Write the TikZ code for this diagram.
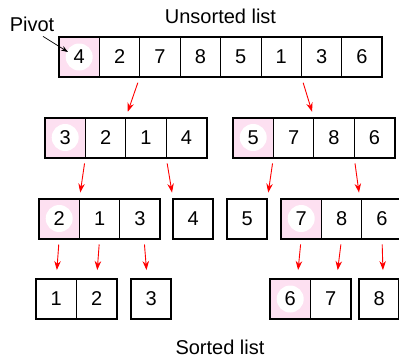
\documentclass[tikz,border=0pt]{standalone}
\usepackage{fontspec}
\setmainfont{Liberation Sans}
\usetikzlibrary{arrows.meta,positioning}

\begin{document}
\begin{tikzpicture}[
    x=1pt, y=-1pt,
    node distance=0pt,
    every node/.style={font=\fontsize{20}{24}\selectfont},
    cell/.style={rectangle, draw=black, line width=0.7pt, minimum width=40.4pt, minimum height=40pt, inner sep=0pt, outer sep=0pt},
    pivot/.style={cell, fill=magenta!12, path picture={\fill[white] (path picture bounding box.center) circle (13.5pt);}},
    single/.style={cell, line width=2pt},
    outline/.style={draw=black, line width=2pt},
    split/.style={-{Stealth[length=9pt,width=6.5pt]}, red, line width=0.9pt, shorten <=6pt, shorten >=6pt},
    ptr/.style={-{Stealth[length=7pt,width=5pt]}, black, line width=0.7pt}
]
\useasboundingbox (0,0) rectangle (399,359);

% labels
\node (pivot) at (32,24.5) {Pivot};
\node (unsorted) at (220.5,16.5) {Unsorted list};
\node (sorted) at (220,347) {Sorted list};

% unsorted list
\node[pivot] (u1) at (79.2,57) {4};
\node[cell, right=of u1] (u2) {2};
\node[cell, right=of u2] (u3) {7};
\node[cell, right=of u3] (u4) {8};
\node[cell, right=of u4] (u5) {5};
\node[cell, right=of u5] (u6) {1};
\node[cell, right=of u6] (u7) {3};
\node[cell, right=of u7] (u8) {6};
\draw[outline] (u1.north west) rectangle (u8.south east);

% first split
\node[pivot] (a1) at (65.2,137.5) {3};
\node[cell, right=of a1] (a2) {2};
\node[cell, right=of a2] (a3) {1};
\node[cell, right=of a3] (a4) {4};
\draw[outline] (a1.north west) rectangle (a4.south east);

\node[pivot] (b1) at (253.2,137.5) {5};
\node[cell, right=of b1] (b2) {7};
\node[cell, right=of b2] (b3) {8};
\node[cell, right=of b3] (b4) {6};
\draw[outline] (b1.north west) rectangle (b4.south east);

% second split
\node[pivot] (c1) at (59.2,218.5) {2};
\node[cell, right=of c1] (c2) {1};
\node[cell, right=of c2] (c3) {3};
\draw[outline] (c1.north west) rectangle (c3.south east);

\node[single] (d) at (193.2,218.5) {4};
\node[single] (e) at (247.2,218.5) {5};

\node[pivot] (f1) at (301.2,218.5) {7};
\node[cell, right=of f1] (f2) {8};
\node[cell, right=of f2] (f3) {6};
\draw[outline] (f1.north west) rectangle (f3.south east);

% sorted pieces
\node[cell] (g1) at (56.2,299) {1};
\node[cell, right=of g1] (g2) {2};
\draw[outline] (g1.north west) rectangle (g2.south east);

\node[single] (h) at (151.2,299) {3};

\node[pivot] (k1) at (290.2,299) {6};
\node[cell, right=of k1] (k2) {7};
\draw[outline] (k1.north west) rectangle (k2.south east);

\node[single] (m) at (379.2,299) {8};

% arrows
\draw[ptr] ([xshift=11pt,yshift=-1pt]pivot.south) -- ([xshift=9pt,yshift=5pt]u1.west);

\draw[split] (u2.south east) -- (a2.north east);
\draw[split] (u6.south east) -- (b2.north east);

\draw[split] (a1.south east) -- (c1.north east);
\draw[split] (a3.south east) -- (d.north west);
\draw[split] (b1.south east) -- (e.north east);
\draw[split] (b3.south east) -- ([xshift=-2pt]f2.north east);

\draw[split, shorten >=9pt] (c1.south) -- (g1.north);
\draw[split, shorten >=9pt] (c2.south) -- (g2.north);
\draw[split, shorten >=9pt] ([xshift=4pt]c3.south) -- ([xshift=-4pt]h.north);
\draw[split, shorten >=9pt] (f1.south) -- ([xshift=7pt]k1.north);
\draw[split, shorten >=9pt] (f2.south) -- ([xshift=6pt]k2.north);
\draw[split, shorten >=9pt] (f3.south) -- ([xshift=4pt]m.north);
\end{tikzpicture}
\end{document}
